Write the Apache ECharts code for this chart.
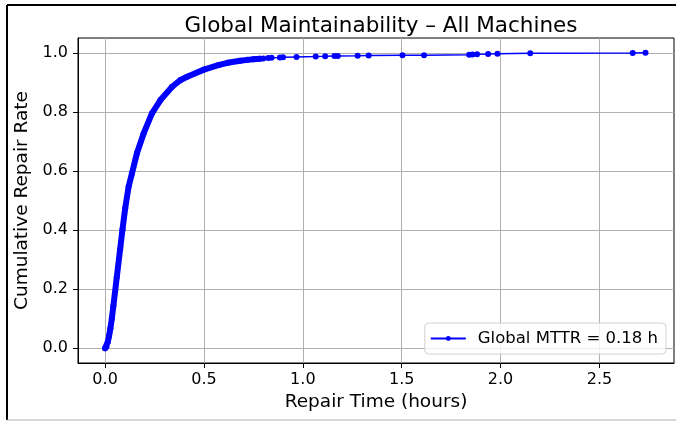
<!DOCTYPE html>
<html>
<head>
<meta charset="utf-8">
<script src="https://cdn.jsdelivr.net/npm/echarts@6/dist/echarts.min.js"></script>
<style>html,body{margin:0;padding:0;background:#fff;}#c{width:676px;height:421px;}</style>
</head>
<body>
<div id="c"></div>
<script>
const repairHours = [0.000, 0.007, 0.014, 0.020, 0.027, 0.034, 0.042, 0.059, 0.076, 0.088, 0.102, 0.119, 0.136, 0.161, 0.195, 0.237, 0.280, 0.339, 0.382, 0.415, 0.500, 0.576, 0.620, 0.683, 0.720, 0.750, 0.783, 0.800,
  0.825, 0.842, 0.884, 0.900, 0.968, 1.065, 1.113, 1.160, 1.177, 1.277, 1.333, 1.504, 1.613, 1.841, 1.858, 1.881, 1.937, 1.984, 2.150, 2.668, 2.733];
const cumulativeRate = [0.000, 0.005, 0.022, 0.041, 0.068, 0.100, 0.143, 0.240, 0.335, 0.402, 0.475, 0.547, 0.592, 0.660, 0.727, 0.795, 0.840, 0.885, 0.908, 0.919, 0.943, 0.959, 0.966, 0.973, 0.976, 0.978, 0.980, 0.981,
  0.982, 0.983, 0.984, 0.985, 0.986, 0.987, 0.988, 0.989, 0.989, 0.990, 0.991, 0.992, 0.992, 0.993, 0.994, 0.995, 0.996, 0.997, 0.998, 0.999, 1.000];
const xTicks = [0.0, 0.5, 1.0, 1.5, 2.0, 2.5];
const yTicks = [0.0, 0.2, 0.4, 0.6, 0.8, 1.0];
const seriesName = 'Global MTTR = 0.18 h';
const titleText = 'Global Maintainability \u2013 All Machines';

const pts = repairHours.map((x, i) => [x, cumulativeRate[i]]);
const densePts = pts.filter(p => p[0] <= 0.79);
const FONT = 'DejaVu Sans';

const chart = echarts.init(document.getElementById('c'), null, {renderer: 'canvas'});
chart.setOption({
  animation: false,
  backgroundColor: '#fff',
  textStyle: {fontFamily: FONT},
  title: {
    text: titleText, left: 376, top: 10, textAlign: 'center',
    textStyle: {fontFamily: FONT, fontSize: 21.5, fontWeight: 'normal', color: '#000'}
  },
  grid: {left: 78, right: 2, top: 38, bottom: 58, show: true, borderColor: '#000', borderWidth: 1, containLabel: false},
  legend: {
    data: [seriesName], right: 10, bottom: 67, orient: 'vertical',
    itemWidth: 35, itemHeight: 6, itemGap: 0,
    padding: [7, 8, 7, 5],
    borderColor: '#d0d0d0', borderWidth: 1, borderRadius: 4, backgroundColor: 'rgba(255,255,255,0.8)',
    textStyle: {fontFamily: FONT, fontSize: 16.5, color: '#000', padding: [0, 0, 0, 7]}
  },
  xAxis: {
    type: 'value', min: -0.137, max: 2.877,
    name: 'Repair Time (hours)', nameLocation: 'middle', nameGap: 29,
    nameTextStyle: {fontFamily: FONT, fontSize: 18.5, color: '#000'},
    axisLine: {show: true, onZero: false, lineStyle: {color: '#000', width: 1}},
    axisTick: {show: true, inside: false, length: 5, lineStyle: {color: '#000', width: 1}, customValues: xTicks},
    axisLabel: {customValues: xTicks, fontFamily: FONT, fontSize: 16, color: '#000', margin: 9, formatter: v => v.toFixed(1)},
    splitLine: {show: true, lineStyle: {color: '#b0b0b0', width: 1}}
  },
  yAxis: {
    type: 'value', min: -0.05, max: 1.05,
    name: 'Cumulative Repair Rate', nameLocation: 'middle', nameGap: 42, nameRotate: 90,
    nameTextStyle: {fontFamily: FONT, fontSize: 18.5, color: '#000'},
    axisLine: {show: true, onZero: false, lineStyle: {color: '#000', width: 1}},
    axisTick: {show: true, inside: false, length: 5, lineStyle: {color: '#000', width: 1}, customValues: yTicks},
    axisLabel: {customValues: yTicks, fontFamily: FONT, fontSize: 16, color: '#000', margin: 10, formatter: v => v.toFixed(1)},
    splitLine: {show: true, lineStyle: {color: '#b0b0b0', width: 1}}
  },
  series: [
    {
      name: 'dense', type: 'line', data: densePts, showSymbol: false, symbol: 'none',
      lineStyle: {color: '#0000ff', width: 6, cap: 'round', join: 'round'}, silent: true, z: 2
    },
    {
      name: seriesName, type: 'line', data: pts,
      symbol: 'circle', symbolSize: 6, showAllSymbol: true,
      itemStyle: {color: '#0000ff'},
      lineStyle: {color: '#0000ff', width: 1.5}, z: 3
    }
  ],
  graphic: [
    {type: 'line', shape: {x1: 7, y1: 5, x2: 676, y2: 5}, style: {stroke: '#000', lineWidth: 2}},
    {type: 'line', shape: {x1: 7, y1: 5, x2: 7, y2: 420}, style: {stroke: '#000', lineWidth: 2}},
    {type: 'line', shape: {x1: 7, y1: 420, x2: 676, y2: 420}, style: {stroke: '#b0b0b0', lineWidth: 1}}
  ]
});
</script>
</body>
</html>
